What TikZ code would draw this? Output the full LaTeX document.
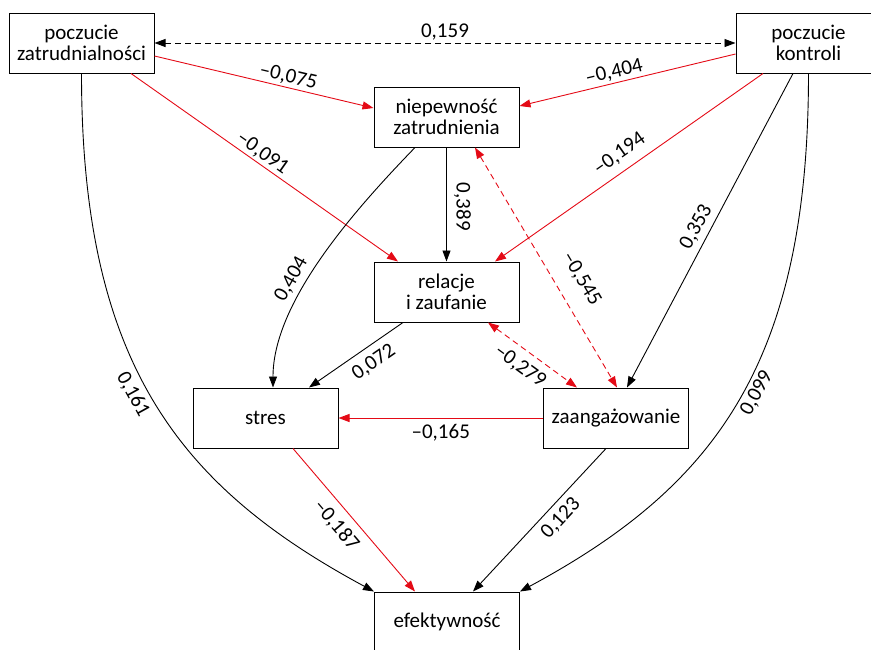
\documentclass[tikz,border=0pt]{standalone}
\usepackage{fontspec}
\setmainfont{Carlito}
\usetikzlibrary{arrows.meta}
\definecolor{pathred}{RGB}{228,10,22}
\begin{document}
\begin{tikzpicture}[x=1pt,y=-1pt,
  font=\fontsize{21}{21}\selectfont,
  var/.style={draw, line width=1pt, minimum width=145pt, minimum height=60pt, align=center, inner sep=0pt},
  conn/.style={line width=0.9pt, -{Triangle[length=11pt,width=8pt]}},
  corr/.style={line width=0.9pt, {Triangle[length=11pt,width=8pt]}-{Triangle[length=11pt,width=8pt]}, dash pattern=on 6pt off 4pt},
  neg/.style={color=pathred},
  lbl/.style={inner sep=2pt, sloped, text=black}
]
\useasboundingbox (0,0) rectangle (871,649);

% variables
\node[var] (pz) at (81.5,43) {poczucie\\zatrudnialności};
\node[var] (pk) at (808.5,43) {poczucie\\kontroli};
\node[var] (niep) at (446.5,117) {niepewność\\zatrudnienia};
\node[var] (rel) at (446.5,292) {relacje\\i zaufanie};
\node[var] (stres) at (265.5,418) {stres};
\node[var] (zaang) at (616,418) {zaangażowanie};
\node[var] (efekt) at (447,622) {efektywność};

% correlation between the two predictors
\draw[corr] (pz.east) -- node[lbl, above] {0,159} (pk.west);

% paths from the predictors
\draw[conn, neg] ([yshift=-13pt]pz.east) -- node[lbl, pos=.6, above] {–0,075} ([yshift=9pt]niep.west);
\draw[conn, neg] ([xshift=49.5pt]pz.south) -- node[lbl, pos=.47, above] {–0,091} ([xshift=-48.5pt]rel.north);
\draw[conn, neg] ([yshift=-11pt]pk.west) -- node[lbl, pos=.55, above] {–0,404} ([yshift=11pt]niep.east);
\draw[conn, neg] ([xshift=-45.5pt]pk.south) -- node[lbl, pos=.5, above=6pt] {–0,194} ([xshift=48.5pt]rel.north);
\draw[conn] ([xshift=-15.5pt]pk.south) -- node[lbl, pos=.51, above=3pt] {0,353} ([xshift=11pt]zaang.north);
\draw[conn] (pk.south) .. controls +(0,290) and +(195,-105) .. node[lbl, pos=.47, below=2pt] {0,099} (efekt.north east);
\draw[conn] (pz.south) .. controls +(0,290) and +(-195,-105) .. node[lbl, pos=.47, below=4pt] {0,161} (efekt.north west);

% mediators
\draw[conn] (niep.south) -- node[lbl, pos=.52, above=5pt] {0,389} (rel.north);
\draw[conn] ([xshift=-31.5pt]niep.south) .. controls +(-55,57) and +(0,-88) .. node[lbl, pos=.62, above=4pt] {0,404} ([xshift=7.5pt]stres.north);
\draw[corr, neg] ([xshift=28.5pt]niep.south) -- node[lbl, pos=.6, above=14pt] {–0,545} ([xshift=1pt]zaang.north);
\draw[conn] ([xshift=-43.5pt]rel.south) -- node[lbl, pos=.41, below=6pt] {0,072} ([xshift=43.5pt]stres.north);
\draw[corr, neg] ([xshift=41.5pt]rel.south) -- node[lbl, pos=.47, below=6pt] {–0,279} ([xshift=-39pt]zaang.north);
\draw[conn, neg] (zaang.west) -- node[lbl, pos=.5, below=4pt] {–0,165} (stres.east);

% paths to the outcome
\draw[conn, neg] ([xshift=27.5pt]stres.south) -- node[lbl, pos=.46, below=6pt] {–0,187} ([xshift=-32pt]efekt.north);
\draw[conn] ([xshift=-10pt]zaang.south) -- node[lbl, pos=.42, below=4pt] {0,123} ([xshift=26pt]efekt.north);
\end{tikzpicture}
\end{document}
